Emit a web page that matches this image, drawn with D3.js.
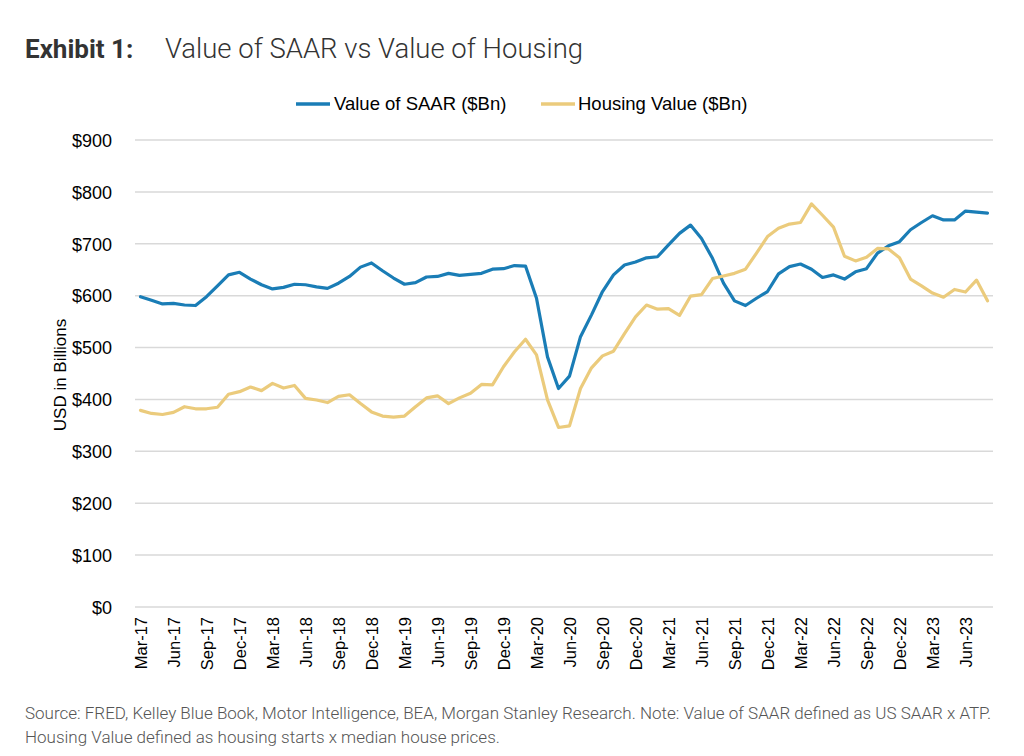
<!DOCTYPE html>
<html>
<head>
<meta charset="utf-8">
<script src="https://cdn.jsdelivr.net/npm/d3@7"></script>
<style>
  html, body { margin: 0; padding: 0; background: #fff; }
  svg { display: block; }
</style>
</head>
<body>
<svg id="chart" width="1024" height="756"></svg>
<script>
const months = ["Jan","Feb","Mar","Apr","May","Jun","Jul","Aug","Sep","Oct","Nov","Dec"];
// Monthly categories Mar-17 .. Aug-23
const categories = [];
for (let y = 17; y <= 23; y++) {
  for (let m = 0; m < 12; m++) {
    if (y === 17 && m < 2) continue;
    if (y === 23 && m > 7) continue;
    categories.push(months[m] + "-" + y);
  }
}
const saarValues = [
  598,591,584,585,582,581,598,619,640,645,632,621,
  613,616,622,621,617,614,624,637,655,663,648,634,
  622,625,636,637,643,639,641,643,651,652,658,657,
  595,482,421,445,521,563,608,640,659,665,673,675,
  698,720,736,710,672,624,590,581,595,608,642,656,
  661,651,635,640,632,646,652,682,696,704,727,741,
  754,746,746,763,761,759
];
const housingValues = [
  379,373,371,375,386,382,382,385,410,415,424,417,
  431,422,427,402,399,394,406,409,392,376,368,366,
  368,386,403,407,392,403,412,429,428,463,492,516,
  486,399,346,349,421,461,484,493,527,559,582,574,
  575,562,599,602,633,638,643,651,682,714,730,738,
  741,777,755,732,676,667,674,691,690,673,632,619,
  605,597,612,607,630,590
];
const yTicks = [0,100,200,300,400,500,600,700,800,900];
const seriesNames = ["Value of SAAR ($Bn)", "Housing Value ($Bn)"];
const seriesColors = ["#1a7db6", "#ebcb7c"];

const svg = d3.select("#chart");
const plot = { left: 135, right: 993, top: 140, bottom: 607 };
const sans = "Liberation Sans, Arial, sans-serif";

const x = d3.scaleBand().domain(categories).range([plot.left, plot.right]).padding(0);
const y = d3.scaleLinear().domain([0, 900]).range([plot.bottom, plot.top]);

// Title
svg.append("text").attr("x", 25).attr("y", 58)
  .attr("font-family", "Roboto").attr("font-size", 26).attr("font-weight", 700).attr("fill", "#333")
  .text("Exhibit 1:");
svg.append("text").attr("x", 165).attr("y", 58)
  .attr("font-family", "Roboto").attr("font-size", 27.5).attr("font-weight", 300).attr("fill", "#333")
  .attr("textLength", 418).attr("lengthAdjust", "spacingAndGlyphs")
  .text("Value of SAAR vs Value of Housing");

// Gridlines
svg.append("g").selectAll("line").data(yTicks).join("line")
  .attr("x1", plot.left).attr("x2", plot.right)
  .attr("y1", d => y(d)).attr("y2", d => y(d))
  .attr("stroke", "#d9d9d9").attr("stroke-width", 1.5);

// Y axis labels
const yAxis = d3.axisLeft(y).tickValues(yTicks).tickFormat(d => "$" + d).tickSize(0).tickPadding(0);
const gy = svg.append("g").attr("transform", `translate(112,0)`).call(yAxis);
gy.select(".domain").remove();
gy.selectAll("text").attr("font-family", sans)
  .attr("font-size", 18).attr("fill", "#000").attr("dy", "0.35em");

// Y axis title
svg.append("text").attr("transform", "translate(66,375) rotate(-90)")
  .attr("text-anchor", "middle").attr("font-family", sans)
  .attr("font-size", 17).attr("fill", "#000").text("USD in Billions");

// X axis labels (every 3rd month)
const xTickVals = categories.filter((d, i) => i % 3 === 0);
const xAxis = d3.axisBottom(x).tickValues(xTickVals).tickSize(0).tickPadding(0);
const gx = svg.append("g").attr("transform", `translate(0,${plot.bottom})`).call(xAxis);
gx.select(".domain").remove();
gx.selectAll("text")
  .attr("font-family", sans).attr("font-size", 16.5).attr("fill", "#000")
  .attr("text-anchor", "end").attr("dy", null).attr("y", 0)
  .attr("transform", "translate(6,10) rotate(-90)");

// Lines
const line = d3.line().x((d, i) => x(categories[i]) + x.bandwidth() / 2).y(d => y(d));
[saarValues, housingValues].forEach((vals, k) => {
  svg.append("path").datum(vals).attr("d", line)
    .attr("fill", "none").attr("stroke", seriesColors[k]).attr("stroke-width", 3.2)
    .attr("stroke-linejoin", "round").attr("stroke-linecap", "round");
});

// Legend
const legendItems = [{ x: 296, tx: 334 }, { x: 541, tx: 578 }];
legendItems.forEach((it, k) => {
  svg.append("line").attr("x1", it.x).attr("x2", it.x + 34).attr("y1", 104).attr("y2", 104)
    .attr("stroke", seriesColors[k]).attr("stroke-width", 3.5);
  svg.append("text").attr("x", it.tx).attr("y", 104).attr("dy", "0.35em")
    .attr("font-family", sans).attr("font-size", 18.5).attr("fill", "#000")
    .text(seriesNames[k]);
});

// Source note
const notes = [
  "Source: FRED, Kelley Blue Book, Motor Intelligence, BEA, Morgan Stanley Research. Note: Value of SAAR defined as US SAAR x ATP.",
  "Housing Value defined as housing starts x median house prices."
];
svg.append("g").selectAll("text").data(notes).join("text")
  .attr("x", 25).attr("y", (d, i) => 719 + i * 24)
  .attr("font-family", "Roboto").attr("font-weight", 300).attr("font-size", 17).attr("fill", "#555")
  .text(d => d);
</script>
</body>
</html>
